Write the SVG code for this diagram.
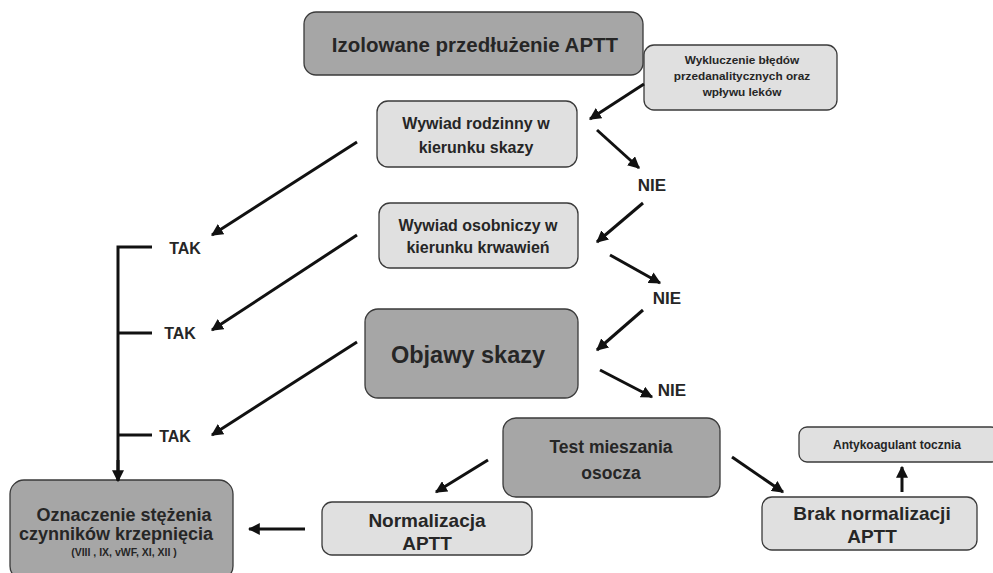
<svg xmlns="http://www.w3.org/2000/svg" width="993" height="573" viewBox="0 0 993 573">
<defs>
<style>
.dark{fill:#a6a6a6;stroke:#3a3a3a;stroke-width:1.3}
.light{fill:#e0e0e0;stroke:#3a3a3a;stroke-width:1.3}
text{font-family:"Liberation Sans",Arial,sans-serif;font-weight:bold;fill:#262626;text-anchor:middle;dominant-baseline:central}
.c line,.c path{stroke:#111;stroke-width:3;fill:none}
.c .a{marker-end:url(#ah)}
</style>
<marker id="ah" viewBox="0 0 10 10" refX="9" refY="5" markerWidth="4" markerHeight="4" orient="auto" markerUnits="strokeWidth">
<path d="M0,0 L10,5 L0,10 z" fill="#111"/>
</marker>
</defs>
<rect width="993" height="573" fill="#fff"/>
<g id="n1"><rect class="dark" x="304" y="12" width="339" height="63" rx="12"/><text x="475" y="44" font-size="20.5">Izolowane przedłużenie APTT</text></g>
<g id="n2"><rect class="light" x="644" y="45" width="193" height="65" rx="10"/><text x="742" y="60" font-size="11.8">Wykluczenie błędów</text><text x="742" y="76" font-size="11.8">przedanalitycznych oraz</text><text x="742" y="92" font-size="11.8">wpływu leków</text></g>
<g id="n3"><rect class="light" x="377" y="101" width="200" height="66" rx="11"/><text x="476" y="123" font-size="16">Wywiad rodzinny w</text><text x="476" y="147" font-size="16">kierunku skazy</text></g>
<g id="n4"><rect class="light" x="379" y="203" width="199" height="65" rx="11"/><text x="478" y="225" font-size="16">Wywiad osobniczy w</text><text x="478" y="247" font-size="16">kierunku krwawień</text></g>
<g id="n5"><rect class="dark" x="365" y="309" width="213" height="89" rx="13"/><text x="468" y="355" font-size="23.5">Objawy skazy</text></g>
<g id="n6"><rect class="dark" x="503" y="418" width="217" height="79" rx="13"/><text x="611" y="447" font-size="17.5">Test mieszania</text><text x="611" y="473" font-size="17.5">osocza</text></g>
<g id="n7"><rect class="light" x="799" y="427" width="200" height="35" rx="8"/><text x="897" y="445" font-size="12">Antykoagulant tocznia</text></g>
<g id="n8"><rect class="light" x="762" y="497" width="215" height="53" rx="10"/><text x="872" y="513" font-size="19">Brak normalizacji</text><text x="872" y="536" font-size="19">APTT</text></g>
<g id="n9"><rect class="light" x="322" y="502" width="210" height="53" rx="10"/><text x="427" y="520" font-size="19">Normalizacja</text><text x="427" y="543" font-size="19">APTT</text></g>
<g id="n10"><rect class="dark" x="10" y="480" width="223" height="100" rx="14"/><text x="124" y="515" font-size="18">Oznaczenie stężenia</text><text x="116" y="534" font-size="18">czynników krzepnięcia</text><text x="124" y="552" font-size="10.5">(VIII , IX, vWF, XI, XII )</text></g>
<g id="labels">
<text x="652" y="185" font-size="17">NIE</text>
<text x="667" y="298" font-size="17">NIE</text>
<text x="672" y="390" font-size="17">NIE</text>
<text x="185" y="248" font-size="16">TAK</text>
<text x="180" y="333" font-size="16">TAK</text>
<text x="175" y="436" font-size="16">TAK</text>
</g>
<g class="c" id="connectors">
<line class="a" x1="644" y1="84" x2="590" y2="119"/>
<line class="a" x1="597" y1="130" x2="639" y2="168"/>
<line class="a" x1="643" y1="203" x2="597" y2="242"/>
<line class="a" x1="610" y1="255" x2="660" y2="283"/>
<line class="a" x1="643" y1="310" x2="597" y2="350"/>
<line class="a" x1="600" y1="370" x2="652" y2="397"/>
<line class="a" x1="357" y1="142" x2="212" y2="235"/>
<line class="a" x1="357" y1="235" x2="212" y2="330"/>
<line class="a" x1="357" y1="342" x2="212" y2="435"/>
<path d="M152,247 H118 V480"/>
<line x1="118" y1="333" x2="152" y2="333"/>
<line x1="118" y1="435" x2="152" y2="435"/>
<line class="a" x1="118" y1="460" x2="118" y2="481"/>
<line class="a" x1="488" y1="460" x2="436" y2="492"/>
<line class="a" x1="732" y1="457" x2="783" y2="492"/>
<line class="a" x1="902" y1="492" x2="902" y2="467"/>
<line class="a" x1="305" y1="529" x2="249" y2="529"/>
</g>
</svg>
